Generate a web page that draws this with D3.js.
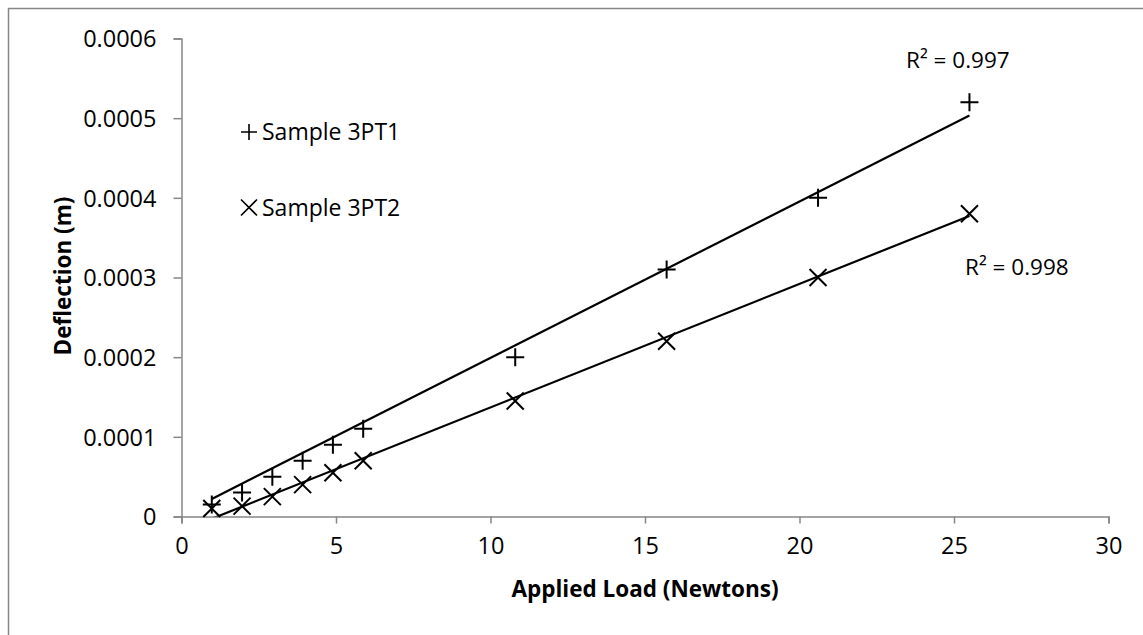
<!DOCTYPE html>
<html>
<head>
<meta charset="utf-8">
<script src="https://cdn.jsdelivr.net/npm/d3@7"></script>
<style>
  body { margin: 0; background: #fff; }
  svg { display: block; font-family: "Open Sans", sans-serif; }
</style>
</head>
<body>
<div id="chart"></div>
<script>
// applied load (N) for each reading
var loads = [0.98, 1.96, 2.94, 3.92, 4.9, 5.88, 10.8, 15.7, 20.6, 25.5];
// deflection (m) per sample
var sample1 = [0.000015, 0.00003, 0.00005, 0.00007, 0.00009, 0.00011, 0.0002, 0.00031, 0.0004, 0.00052];
var sample2 = [0.00001, 0.000013, 0.000025, 0.00004, 0.000055, 0.00007, 0.000145, 0.00022, 0.0003, 0.00038];
var seriesNames = ['Sample 3PT1', 'Sample 3PT2'];
// linear trendlines as drawn on the chart (slope, intercept)
var trendSlopes = [0.00001963, 0.0000155];
var trendIntercepts = [0.0000028, -0.000018];
var rSquared = ['R² = 0.997', 'R² = 0.998'];
var xTicks = [0, 5, 10, 15, 20, 25, 30];
var yTicks = [0, 0.0001, 0.0002, 0.0003, 0.0004, 0.0005, 0.0006];
var yTickLabels = ['0', '0.0001', '0.0002', '0.0003', '0.0004', '0.0005', '0.0006'];

var width = 1143, height = 635;
var axisColor = '#868686';

var svg = d3.select('#chart').append('svg')
	.attr('width', width)
	.attr('height', height);

// chart frame (only top/left edges fall inside the view)
svg.append('rect')
	.attr('x', 8.5).attr('y', 8.5)
	.attr('width', width + 20).attr('height', height + 20)
	.attr('fill', 'none')
	.attr('stroke', axisColor)
	.attr('stroke-width', 1.5);

var x = d3.scaleLinear().domain([0, 30]).range([181.5, 1108.5]);
var y = d3.scaleLinear().domain([0, 0.0006]).range([516.5, 38.5]);

// y axis
var yAxis = svg.append('g')
	.attr('transform', 'translate(' + x(0) + ',0)')
	.call(d3.axisLeft(y).tickValues(yTicks).tickSizeOuter(0).tickSize(8).tickPadding(17)
		.tickFormat(function (d, i) { return yTickLabels[i]; }));

// x axis
var xAxis = svg.append('g')
	.attr('transform', 'translate(0,' + y(0) + ')')
	.call(d3.axisBottom(x).tickValues(xTicks).tickSizeOuter(0).tickSize(7).tickPadding(14)
		.tickFormat(d3.format('d')));

[yAxis, xAxis].forEach(function (g) {
	g.select('.domain').attr('stroke', axisColor).attr('stroke-width', 1.5);
	g.selectAll('.tick line').attr('stroke', axisColor).attr('stroke-width', 1.5);
	g.selectAll('.tick text')
		.attr('fill', '#000')
		.style('font-family', '"Open Sans", sans-serif')
		.style('font-size', '23.5px');
});
yAxis.selectAll('.tick text').attr('dy', '0.36em');

// axis titles
svg.append('text')
	.attr('x', 645).attr('y', 597)
	.attr('text-anchor', 'middle')
	.style('font-size', '22.5px').style('font-weight', 'bold')
	.text('Applied Load (Newtons)');

svg.append('text')
	.attr('transform', 'translate(71,276) rotate(-90)')
	.attr('text-anchor', 'middle')
	.style('font-size', '22.5px').style('font-weight', 'bold')
	.text('Deflection (m)');

// trendlines, clipped to the plot area
svg.append('clipPath').attr('id', 'plot-clip')
	.append('rect')
	.attr('x', x(0)).attr('y', y(0.0006))
	.attr('width', x(30) - x(0)).attr('height', y(0) - y(0.0006));

var line = d3.line().x(function (d) { return x(d[0]); }).y(function (d) { return y(d[1]); });
var xMin = d3.min(loads), xMax = d3.max(loads);
trendSlopes.forEach(function (m, i) {
	var b = trendIntercepts[i];
	svg.append('path')
		.attr('clip-path', 'url(#plot-clip)')
		.attr('d', line([[xMin, m * xMin + b], [xMax, m * xMax + b]]))
		.attr('fill', 'none')
		.attr('stroke', '#000')
		.attr('stroke-width', 2.2);
});

// marker shapes: plus and cross
function plus(s) {
	return 'M' + (-s) + ',0H' + s + 'M0,' + (-s) + 'V' + s;
}
function cross(s) {
	return 'M' + (-s) + ',' + (-s) + 'L' + s + ',' + s + 'M' + (-s) + ',' + s + 'L' + s + ',' + (-s);
}
var shapes = [plus, cross];
var sizes = [9, 8.5];

[sample1, sample2].forEach(function (vals, i) {
	svg.append('g').selectAll('path')
		.data(loads.map(function (l, j) { return [l, vals[j]]; }))
		.enter().append('path')
		.attr('transform', function (d) { return 'translate(' + x(d[0]) + ',' + y(d[1]) + ')'; })
		.attr('d', shapes[i](sizes[i]))
		.attr('fill', 'none')
		.attr('stroke', '#000')
		.attr('stroke-width', 2);
});

// R² labels
svg.append('text').attr('x', 906).attr('y', 68)
	.style('font-size', '22.5px').text(rSquared[0]);
svg.append('text').attr('x', 965).attr('y', 275)
	.style('font-size', '22.5px').text(rSquared[1]);

// legend
var legendY = [132, 207.5];
seriesNames.forEach(function (name, i) {
	var g = svg.append('g').attr('transform', 'translate(249,' + legendY[i] + ')');
	g.append('path')
		.attr('d', shapes[i](8))
		.attr('fill', 'none')
		.attr('stroke', '#000')
		.attr('stroke-width', 1.6);
	g.append('text')
		.attr('x', 13).attr('y', 8)
		.style('font-size', '23px')
		.text(name);
});
</script>
</body>
</html>
